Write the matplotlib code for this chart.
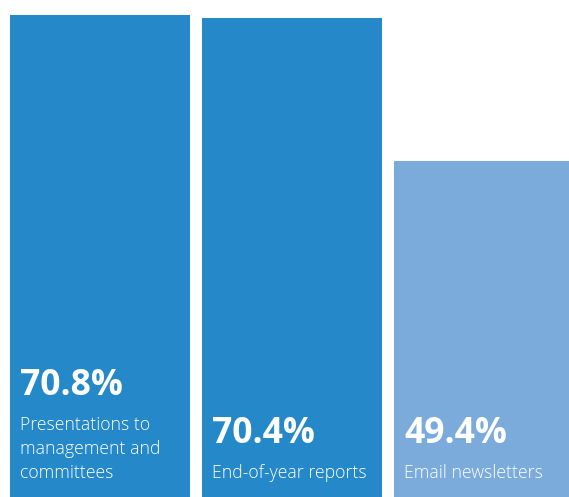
import matplotlib
matplotlib.use("Agg")
import matplotlib.pyplot as plt

categories = ["Presentations to\nmanagement and\ncommittees", "End-of-year reports", "Email newsletters"]
values = [70.8, 70.4, 49.4]
colors = ["#2589C9", "#2589C9", "#7AABDB"]

W, H = 569, 497
fig = plt.figure(figsize=(W / 72, H / 72), dpi=72)
ax = fig.add_axes([0, 0, 1, 1])
ax.set_axis_off()

px_per_unit = 192.0
bar_w = 180 / px_per_unit
x = list(range(len(values)))
ax.bar(x, values, width=bar_w, color=colors, align="center")
ax.set_xlim(-100 / px_per_unit, (W - 100) / px_per_unit)
ax.set_ylim(0, 73.0)

line_gap = 24
for i, (label, v) in enumerate(zip(categories, values)):
    left = i - bar_w / 2
    lines = label.split("\n")
    base = 19
    for j, line in enumerate(reversed(lines)):
        ax.annotate(line, xy=(left, 0), xytext=(10, base + j * line_gap),
                    textcoords="offset points", ha="left", va="baseline",
                    color="white", fontsize=17.6, family="Open Sans",
                    fontweight="light")
    top_line = base + (len(lines) - 1) * line_gap
    ax.annotate(f"{v}%", xy=(left, 0), xytext=(10, top_line + 35),
                textcoords="offset points", ha="left", va="baseline",
                color="white", fontsize=35.5, family="Open Sans",
                fontweight="bold")

fig.savefig("out.png", dpi=72)
